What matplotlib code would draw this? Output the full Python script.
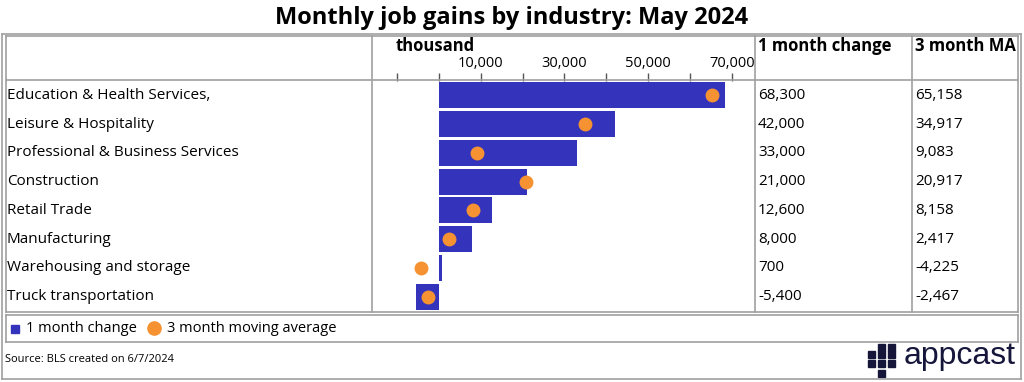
import matplotlib.pyplot as plt
import matplotlib.patches as mpatches
import numpy as np

industries = ['Education & Health Services,', 'Leisure & Hospitality',
              'Professional & Business Services', 'Construction', 'Retail Trade',
              'Manufacturing', 'Warehousing and storage', 'Truck transportation']
one_month = [68300, 42000, 33000, 21000, 12600, 8000, 700, -5400]
three_month_ma = [65158, 34917, 9083, 20917, 8158, 2417, -4225, -2467]
tick_vals = [-10000, 0, 10000, 20000, 30000, 40000, 50000, 60000, 70000]
tick_labels = ['', '', '10,000', '', '30,000', '', '50,000', '', '70,000']

W, H = 1024, 382
BAR = '#3333bb'
DOT = '#f79232'
GRID = '#a0a0a0'
plt.rcParams['font.family'] = ['Open Sans', 'DejaVu Sans']

fig = plt.figure(figsize=(W / 100, H / 100), dpi=100)


def fx(px):
    return px / W


def fy(py):
    return 1 - py / H


def hline(x0, x1, y, lw=1.2):
    fig.add_artist(plt.Line2D([fx(x0), fx(x1)], [fy(y), fy(y)], color=GRID, lw=lw))


def vline(x, y0, y1, lw=1.2):
    fig.add_artist(plt.Line2D([fx(x), fx(x)], [fy(y0), fy(y1)], color=GRID, lw=lw))


def box(x0, y0, x1, y1, lw=1.2):
    hline(x0, x1, y0, lw)
    hline(x0, x1, y1, lw)
    vline(x0, y0, y1, lw)
    vline(x1, y0, y1, lw)


fig.text(0.5, fy(18), 'Monthly job gains by industry: May 2024', ha='center', va='center',
         fontsize=17, fontweight='bold')

# frames
box(2, 34, 1021, 379)
box(6, 36, 1018, 312)
box(6, 315, 1018, 342)
hline(6, 1018, 80)
vline(372, 36, 312)
vline(755, 36, 312)
vline(912, 36, 312)

# header
fig.text(fx(396), fy(46), 'thousand', ha='left', va='center', fontsize=12, fontweight='bold')
fig.text(fx(758), fy(46), '1 month change', ha='left', va='center', fontsize=12, fontweight='bold')
fig.text(fx(915), fy(46), '3 month MA', ha='left', va='center', fontsize=12, fontweight='bold')

# chart
y_top, y_bot = 81, 311
ax = fig.add_axes([fx(373), fy(y_bot), fx(755) - fx(373), (y_bot - y_top) / H])
n = len(industries)
ypos = np.arange(n)
ax.barh(ypos, one_month, height=0.9, color=BAR, zorder=2)
ax.plot(three_month_ma, ypos, 'o', color=DOT, ms=9, zorder=3, linestyle='none')
ax.set_xlim(-15700, 75500)
ax.set_ylim(n - 0.5, -0.5)
ax.set_yticks([])
ax.xaxis.tick_top()
ax.set_xticks(tick_vals)
ax.set_xticklabels(tick_labels, fontsize=10.5)
ax.tick_params(axis='x', direction='out', length=6, width=1, color='#555555', pad=1)
for s in ax.spines.values():
    s.set_visible(False)

# row texts
row_h = (y_bot - y_top) / n
for i in range(n):
    yc = y_top + row_h * (i + 0.5)
    fig.text(fx(7), fy(yc), industries[i], ha='left', va='center', fontsize=11)
    fig.text(fx(758), fy(yc), f'{one_month[i]:,}', ha='left', va='center', fontsize=11)
    fig.text(fx(915), fy(yc), f'{three_month_ma[i]:,}', ha='left', va='center', fontsize=11)

# legend
fig.add_artist(mpatches.Rectangle((fx(11), fy(333)), fx(8), 8 / H, color=BAR))
fig.text(fx(26), fy(328), '1 month change', ha='left', va='center', fontsize=10.5)
fig.add_artist(plt.Line2D([fx(154)], [fy(328)], marker='o', color=DOT, ms=9.5))
fig.text(fx(167), fy(328), '3 month moving average', ha='left', va='center', fontsize=10.5)

fig.text(fx(5), fy(359), 'Source: BLS created on 6/7/2024', ha='left', va='center', fontsize=8)

# logo
navy = '#15163a'
squares = [(868, 351), (868, 360), (878, 344), (878, 351), (878, 360), (878, 370),
           (888, 344), (888, 351), (888, 360)]
for sx, sy in squares:
    fig.add_artist(mpatches.Rectangle((fx(sx), fy(sy + 7)), fx(7), 7 / H, color=navy))
fig.text(fx(904), fy(356), 'appcast', ha='left', va='center', fontsize=23, color=navy,
         family=['Liberation Sans', 'DejaVu Sans'])

fig.savefig('out.png', dpi=100)
